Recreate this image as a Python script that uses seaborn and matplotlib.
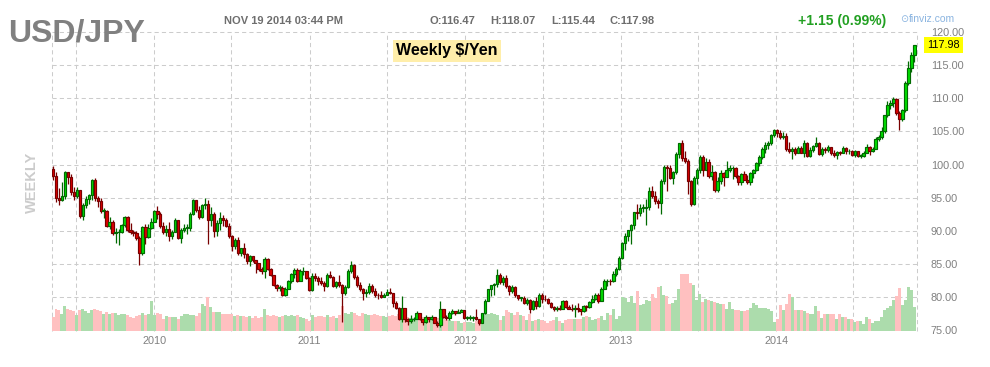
"""
usdjpy_weekly.py - weekly USD/JPY candles with volume, finviz style.
"""

import matplotlib
matplotlib.use("Agg")
import matplotlib.pyplot as plt
import matplotlib.transforms as mtransforms
from matplotlib import font_manager
import numpy as np
import pandas as pd
import seaborn as sns

# ---------------------------------------------------------------------------
# Data (one value per week, Friday dated, May 2009 - Nov 2014)
# ---------------------------------------------------------------------------

START_WEEK = "2009-05-08"
FIRST_OPEN = 99.3

close = [
    # 2009
    98.3, 94.9, 94.6, 95.3, 98.8, 98.1, 95.9, 95.2, 96.1, 92.2, 93.9, 94.8, 95.4,
    97.6, 94.9, 94.5, 93.0, 93.0, 90.8, 91.4, 89.7, 89.8, 89.8, 90.9, 92.1, 90.1,
    89.9, 89.7, 88.9, 86.6, 90.6, 89.1, 90.4, 91.4,
    # 2010
    93.0, 92.6, 90.7, 89.9, 90.3, 89.3, 89.9, 91.6, 89.0, 90.2, 90.5, 90.5, 92.5,
    94.6, 93.2, 92.1, 93.9, 94.0, 91.6, 92.6, 90.0, 91.2, 91.9, 91.6, 90.7, 89.3,
    87.7, 88.6, 86.6, 87.4, 86.5, 85.4, 86.2, 85.6, 85.2, 84.3, 84.0, 85.8, 84.2,
    83.3, 81.9, 81.4, 81.4, 80.4, 81.2, 82.5, 83.5, 84.1, 82.5, 83.9, 84.0, 82.9, 81.1,
    # 2011
    83.2, 82.9, 82.5, 82.1, 81.7, 83.4, 83.1, 81.7, 82.3, 81.9, 80.6, 81.5,
    84.0, 84.8, 83.1, 81.9, 81.2, 80.6, 80.8, 81.7, 80.9, 80.4, 80.3, 80.0, 80.4,
    80.8, 80.6, 79.1, 78.4, 76.8, 78.4, 76.8, 76.5, 76.7, 76.8, 77.6, 76.8, 76.3, 77.1,
    76.7, 77.0, 76.2, 75.8, 78.2, 77.1, 76.9, 77.6, 77.9, 77.7, 77.8, 78.1, 76.9,
    # 2012
    76.9, 76.9, 77.0, 76.7, 76.2, 77.6, 79.5, 81.2, 81.8, 82.0, 83.4, 82.3, 82.9,
    81.7, 80.9, 81.6, 80.3, 79.9, 79.9, 79.2, 79.6, 78.2, 79.5, 78.7, 80.4, 79.8,
    79.7, 79.1, 78.5, 78.2, 78.4, 78.3, 79.5, 78.6, 78.3, 78.2, 78.4, 78.2, 77.9,
    78.7, 78.5, 79.3, 79.8, 80.4, 79.5, 81.3, 82.4, 82.5, 82.4, 83.5, 84.2, 85.9,
    # 2013
    88.2, 89.2, 90.1, 90.9, 92.8, 92.7, 93.5, 93.5, 93.6, 96.0, 95.3, 94.5, 94.2,
    97.5, 99.6, 99.5, 98.0, 98.9, 101.6, 103.2, 101.0, 100.5, 97.5, 94.1, 97.9, 99.1,
    101.2, 99.2, 100.4, 98.3, 98.9, 96.2, 97.5, 98.7, 98.1, 99.1, 99.4, 99.4, 98.3,
    97.4, 98.6, 97.7, 97.4, 98.7, 99.1, 100.2, 101.1, 102.4, 102.9, 103.2, 104.4, 105.2,
    # 2014
    104.8, 104.2, 104.3, 102.3, 102.0, 102.3, 101.8, 102.5, 101.8, 103.2, 101.3, 102.2, 102.8,
    103.3, 101.6, 102.4, 102.2, 102.6, 101.8, 101.5, 101.9, 101.8, 102.5, 102.0, 102.1, 101.4,
    102.0, 101.3, 101.3, 101.8, 102.6, 102.0, 102.4, 103.8, 104.1, 105.1, 107.4, 109.0, 109.3,
    109.8, 107.7, 106.9, 108.2, 112.3, 114.6, 116.47, 117.98,
]

high = [
    # 2009
    99.8, 98.9, 96.5, 97.3, 99.0, 98.9, 98.5, 96.6, 96.6, 96.2, 94.2, 95.2, 95.5,
    97.8, 97.9, 95.3, 95.0, 93.5, 93.2, 92.1, 91.6, 90.4, 90.3, 91.1, 92.3, 92.3,
    91.2, 90.2, 90.0, 89.2, 90.8, 91.0, 91.0, 91.9,
    # 2010
    93.2, 93.8, 92.9, 91.3, 90.9, 91.3, 90.2, 92.0, 91.6, 90.5, 91.1, 91.0, 92.8,
    94.8, 94.7, 93.8, 94.0, 94.9, 94.7, 93.6, 92.8, 91.6, 92.9, 92.4, 91.9, 91.2,
    89.4, 88.9, 89.1, 87.5, 88.2, 86.6, 86.4, 86.2, 85.6, 85.2, 84.6, 86.0, 85.9,
    84.4, 83.4, 82.0, 81.9, 81.7, 81.5, 82.6, 83.7, 84.4, 84.4, 84.2, 84.5, 84.0, 83.1,
    # 2011
    83.7, 83.7, 83.2, 83.1, 82.4, 83.6, 83.9, 83.2, 82.5, 83.3, 82.0, 81.9,
    84.2, 85.5, 85.0, 83.4, 82.3, 81.4, 81.3, 82.1, 82.0, 81.4, 80.6, 80.9, 80.7,
    81.2, 81.4, 80.6, 79.5, 78.5, 80.2, 78.4, 76.9, 77.3, 77.1, 77.9, 77.6, 76.8, 77.4,
    77.1, 77.3, 77.1, 76.4, 79.5, 78.3, 77.3, 77.9, 78.3, 78.0, 78.2, 78.2, 78.1,
    # 2012
    77.2, 77.4, 77.2, 78.3, 76.8, 77.7, 79.7, 81.3, 81.9, 82.2, 84.2, 83.6, 83.2,
    83.3, 81.8, 81.9, 81.7, 80.4, 80.1, 80.2, 79.9, 79.7, 79.6, 80.1, 80.6, 80.6,
    80.3, 79.9, 79.3, 78.7, 78.7, 78.8, 79.6, 79.6, 78.9, 79.0, 78.8, 79.2, 78.3,
    78.8, 78.9, 79.4, 80.4, 80.7, 80.6, 81.5, 82.8, 82.8, 82.8, 83.9, 84.6, 86.2,
    # 2013
    88.4, 89.7, 90.2, 91.0, 92.9, 94.1, 94.0, 94.0, 94.8, 96.6, 96.7, 96.0, 94.8,
    97.8, 99.9, 99.9, 99.9, 99.0, 101.9, 103.3, 103.7, 102.0, 100.9, 97.7, 98.3, 99.4,
    101.5, 101.5, 101.0, 100.8, 99.9, 99.0, 98.1, 99.1, 98.9, 100.6, 100.0, 99.7, 99.6,
    98.4, 98.7, 99.0, 98.4, 98.9, 99.3, 100.4, 101.4, 102.6, 103.4, 103.6, 104.6, 105.4,
    # 2014
    105.4, 105.2, 104.9, 104.8, 103.4, 102.6, 102.7, 102.8, 102.8, 103.7, 103.4, 102.7, 103.0,
    104.1, 103.4, 102.7, 102.7, 102.9, 102.7, 102.2, 102.0, 102.1, 102.8, 102.7, 102.3, 102.2,
    102.2, 102.1, 101.6, 102.0, 103.1, 102.8, 102.6, 104.1, 104.5, 105.7, 107.4, 109.5, 109.7,
    110.1, 110.0, 108.1, 108.4, 112.5, 115.6, 116.9, 118.07,
]

low = [
    # 2009
    97.7, 94.4, 93.9, 94.5, 94.8, 97.0, 95.4, 94.7, 94.9, 92.0, 91.7, 93.5, 94.0,
    94.6, 94.5, 93.6, 92.7, 91.9, 90.6, 90.3, 89.4, 88.2, 87.9, 89.7, 90.6, 89.9,
    89.6, 89.3, 88.7, 84.8, 86.3, 88.0, 88.9, 90.3,
    # 2010
    91.3, 91.8, 90.4, 89.6, 89.2, 88.5, 88.8, 89.9, 88.8, 88.2, 89.8, 89.6, 90.0,
    92.4, 92.8, 91.8, 91.9, 93.3, 88.0, 90.8, 89.1, 89.3, 90.1, 90.8, 90.6, 88.9,
    86.9, 87.2, 86.3, 86.2, 85.9, 85.0, 84.7, 85.3, 83.6, 84.0, 83.5, 82.9, 84.1,
    83.2, 81.7, 80.9, 80.9, 80.2, 80.2, 81.2, 82.2, 82.9, 82.3, 82.4, 83.3, 82.7, 81.0,
    # 2011
    80.9, 82.4, 81.9, 81.9, 81.0, 81.6, 82.9, 81.5, 81.4, 81.6, 76.3, 80.3,
    81.4, 83.6, 82.8, 81.6, 81.0, 79.6, 80.0, 80.5, 80.6, 80.0, 79.8, 79.9, 80.0,
    80.4, 80.5, 78.5, 78.3, 76.6, 76.3, 76.3, 75.9, 76.2, 76.4, 76.8, 76.6, 75.9, 76.1,
    76.3, 76.6, 76.1, 75.6, 75.6, 76.9, 76.6, 76.6, 77.5, 77.4, 77.6, 77.8, 76.8,
    # 2012
    76.6, 76.6, 76.5, 76.6, 75.9, 76.2, 77.5, 79.5, 80.2, 80.4, 81.6, 82.0, 81.8,
    81.4, 80.4, 80.6, 80.1, 79.6, 79.5, 79.0, 78.9, 77.7, 78.1, 78.3, 78.6, 79.1,
    79.4, 79.0, 78.4, 77.9, 78.0, 78.1, 78.2, 78.4, 78.2, 78.0, 77.1, 77.8, 77.4,
    77.8, 78.0, 78.4, 79.2, 79.6, 79.1, 79.4, 81.2, 81.7, 81.8, 82.3, 83.2, 84.1,
    # 2013
    85.8, 87.1, 88.5, 88.1, 90.3, 91.8, 92.2, 92.9, 90.9, 93.2, 94.9, 94.1, 93.5,
    92.6, 97.1, 96.0, 97.8, 97.1, 98.6, 101.0, 100.6, 100.2, 95.6, 93.8, 93.9, 97.0,
    98.7, 98.2, 99.2, 98.0, 97.6, 95.8, 95.9, 97.0, 96.8, 98.1, 98.9, 97.8, 98.0,
    96.9, 96.9, 97.6, 97.1, 96.9, 98.0, 99.0, 99.7, 100.9, 101.7, 102.4, 102.9, 104.1,
    # 2014
    104.1, 103.9, 103.9, 102.1, 101.8, 100.8, 101.4, 101.7, 101.7, 101.2, 101.2, 101.2, 101.9,
    102.7, 101.4, 101.3, 101.8, 101.9, 101.4, 101.1, 100.8, 101.5, 101.7, 101.6, 101.6, 101.3,
    101.2, 101.1, 101.0, 101.2, 101.8, 101.5, 101.9, 102.3, 103.5, 103.9, 104.8, 107.2, 108.3,
    108.6, 107.5, 105.2, 106.5, 107.9, 112.0, 113.9, 115.44,
]

# relative weekly volume
volume = [
    # 2009
    14, 22, 21, 17, 25, 22, 21, 20, 16, 21, 22, 20, 18,
    21, 22, 21, 20, 17, 19, 17, 18, 18, 16, 17, 17, 16,
    14, 13, 15, 16, 18, 16, 17, 30,
    # 2010
    16, 18, 17, 12, 15, 14, 14, 14, 12, 15, 17, 17, 16,
    16, 15, 18, 27, 25, 34, 24, 19, 19, 19, 17, 17, 17,
    17, 15, 16, 15, 15, 14, 15, 13, 15, 13, 14, 22, 16,
    15, 16, 15, 14, 15, 16, 15, 16, 15, 16, 14, 13, 12, 10,
    # 2011
    16, 14, 15, 15, 14, 16, 14, 15, 13, 16, 25, 18,
    17, 19, 18, 16, 15, 18, 17, 16, 16, 17, 16, 15, 15,
    14, 15, 16, 15, 17, 22, 18, 14, 13, 13, 14, 13, 14, 13,
    12, 12, 12, 13, 20, 13, 11, 11, 10, 10, 10, 8, 9,
    # 2012
    9, 9, 8, 10, 11, 17, 17, 17, 18, 17, 16, 11, 15,
    21, 19, 18, 16, 19, 16, 15, 11, 17, 10, 11, 12, 11,
    10, 8, 10, 11, 14, 10, 8, 11, 12, 12, 12, 12, 12,
    14, 15, 14, 11, 12, 13, 15, 11, 18, 16, 22, 12, 15,
    # 2013
    34, 33, 29, 35, 28, 40, 26, 27, 31, 30, 37, 33, 44,
    45, 36, 35, 27, 28, 31, 42, 57, 57, 57, 48, 46, 31,
    37, 29, 32, 31, 30, 29, 28, 27, 27, 22, 29, 22, 21,
    21, 20, 20, 21, 23, 28, 26, 23, 23, 23, 22, 20, 9,
    # 2014
    12, 26, 21, 27, 37, 34, 21, 21, 21, 20, 18, 17, 17,
    25, 20, 13, 17, 17, 17, 17, 12, 17, 14, 14, 12, 12,
    9, 10, 10, 7, 14, 12, 8, 10, 10, 14, 21, 23, 25,
    31, 35, 43, 26, 31, 44, 41, 24,
]

PRICE_TICKS = [75, 80, 85, 90, 95, 100, 105, 110, 115, 120]
YEARS = [2010, 2011, 2012, 2013, 2014]

# ---------------------------------------------------------------------------
# Style
# ---------------------------------------------------------------------------

UP_FILL, UP_EDGE = "#00e000", "#006a00"
DOWN_FILL, DOWN_EDGE = "#e00000", "#780000"
VOL_UP, VOL_DOWN = "#acdcac", "#ffc0c0"
GRID_COLOR = "#cccccc"
LABEL_COLOR = "#808080"
DASH = (0, (4, 3))

W, H = 990, 367

sns.set_theme(style="white")
plt.rcParams["font.family"] = ["Liberation Sans", "DejaVu Sans"]

installed = {f.name for f in font_manager.fontManager.ttflist}
if "Liberation Sans Narrow" in installed:
    title_family, title_size = ["Liberation Sans Narrow", "Liberation Sans"], 27
else:
    title_family, title_size = ["Liberation Sans", "DejaVu Sans"], 23

# ---------------------------------------------------------------------------
# Frame
# ---------------------------------------------------------------------------

weeks = pd.date_range(START_WEEK, periods=len(close), freq="W-FRI")
df = pd.DataFrame({"date": weeks, "close": close, "high": high,
                   "low": low, "volume": volume})
df["open"] = df["close"].shift(1).fillna(FIRST_OPEN)
df["x"] = np.arange(len(df))
df["dir"] = np.where(df["close"] >= df["open"], "up", "down")


def week_pos(day):
    """Fractional candle position of a calendar day."""
    return (pd.Timestamp(day) - weeks[0]).days / 7


def px(x, y):
    return x / W, 1 - y / H


fig = plt.figure(figsize=(W / 100, H / 100), dpi=100)
ax = fig.add_axes([52 / W, 36.5 / H, 865 / W, 298.8 / H])
ax_vol = ax.twinx()

# volume bars (bottom layer)
sns.barplot(
    data=df, x="x", y="volume", hue="dir",
    palette={"up": VOL_UP, "down": VOL_DOWN},
    native_scale=True, dodge=False, width=1.0, saturation=1,
    linewidth=0, errorbar=None, legend=False, ax=ax_vol,
)

x_min, x_max = -0.34, 289.9
ax.set_xlim(x_min, x_max)
ax.set_ylim(PRICE_TICKS[0], PRICE_TICKS[-1])
ax_vol.set_ylim(0, 298.8)

# dashed grid, drawn under the volume bars
price_y = mtransforms.blended_transform_factory(ax_vol.transAxes, ax.transData)
for p in PRICE_TICKS[1:]:
    ax_vol.plot([0, 1], [p, p], transform=price_y, color=GRID_COLOR,
                lw=0.75, ls=DASH, zorder=0.5, clip_on=False)
half_years = [f"{y}-{m}-01" for y in range(2009, 2015) for m in ("01", "07")]
grid_x = [week_pos(d) for d in half_years if weeks[0] <= pd.Timestamp(d) <= weeks[-1]]
for gx in grid_x + [x_min, x_max]:
    ax_vol.axvline(gx, color=GRID_COLOR, lw=0.75, ls=DASH, zorder=0.5, clip_on=False)

# candles
edge = np.where(df["dir"] == "up", UP_EDGE, DOWN_EDGE)
fill = np.where(df["dir"] == "up", UP_FILL, DOWN_FILL)
body_low = np.minimum(df["open"], df["close"])
body_h = np.maximum((df["close"] - df["open"]).abs(), 0.1)
ax.vlines(df["x"], df["low"], df["high"], colors=edge, linewidth=0.9, zorder=2)
ax.bar(df["x"], body_h, bottom=body_low, width=0.8, color=fill,
       edgecolor=edge, linewidth=0.85, zorder=3)

ax.set_zorder(ax_vol.get_zorder() + 1)
ax.patch.set_visible(False)
for a in (ax, ax_vol):
    for s in a.spines.values():
        s.set_visible(False)
ax_vol.set_yticks([])
ax_vol.set_ylabel("")

# axes labels
ax.yaxis.tick_right()
ax.set_yticks(PRICE_TICKS, [f"{p:.2f}" for p in PRICE_TICKS])
ax.set_xticks([week_pos(f"{y}-01-01") for y in YEARS], [str(y) for y in YEARS])
ax.tick_params(axis="y", length=0, pad=10, labelsize=7.8, labelcolor=LABEL_COLOR)
ax.tick_params(axis="x", length=0, pad=4, labelsize=7.8, labelcolor=LABEL_COLOR)
ax.set_xlabel("")
ax.set_ylabel("")

last = close[-1]
ax.text(1 + 10 / 865, last, f"{last:.2f}",
        transform=mtransforms.blended_transform_factory(ax.transAxes, ax.transData),
        fontsize=7.8, color="black", ha="left", va="center",
        bbox=dict(boxstyle="square,pad=0.28", fc="#ffff00", ec="none"))

# ---------------------------------------------------------------------------
# Header texts
# ---------------------------------------------------------------------------

fig.text(*px(8, 42), "USD/JPY", fontsize=title_size, fontweight="bold",
         color="#808080", family=title_family, va="baseline")
fig.text(*px(224, 21), "NOV 19 2014 03:44 PM", fontsize=8, fontweight="bold",
         color="#6e6e6e", va="center")
for x0, txt in [(430, "O:116.47"), (490, "H:118.07"), (551, "L:115.44"), (610, "C:117.98")]:
    fig.text(*px(x0, 21), txt, fontsize=8, fontweight="bold", color="#6e6e6e", va="center")
fig.text(*px(798, 21), "+1.15 (0.99%)", fontsize=10, fontweight="bold",
         color="#22a022", va="center")
fig.text(*px(900, 19), "\u2299", fontsize=7, color="#8ab4e0", va="center",
         family=["DejaVu Sans"])
fig.text(*px(909, 19), "finviz.com", fontsize=7.5, color="#8ab4e0", va="center")
fig.text(*px(447, 51), "Weekly $/Yen", fontsize=11.5, fontweight="bold",
         color="black", ha="center", va="center",
         bbox=dict(boxstyle="square,pad=0.22", fc="#ffeeaa", ec="none"))
fig.text(*px(32, 182), "WEEKLY", rotation=90, fontsize=10.5, fontweight="bold",
         color="#cccccc", ha="center", va="center")

fig.savefig("out.png", dpi=100)
